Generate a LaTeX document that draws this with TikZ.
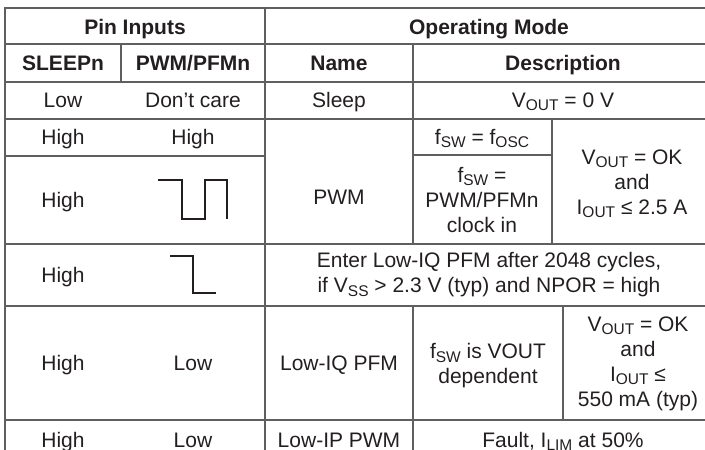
\documentclass[tikz,border=0pt]{standalone}
\usepackage{fontspec}
\setmainfont{Liberation Sans}
\usepackage{tikz}
\usetikzlibrary{positioning}
\definecolor{rulegray}{RGB}{95,95,95}
\definecolor{inkblack}{RGB}{35,31,32}
\newcommand{\lowsub}[1]{\raisebox{-0.3ex}{\fontsize{15.5}{15.5}\selectfont #1}}

\begin{document}
\begin{tikzpicture}[x=1pt, y=-1pt, every node/.style = {align = center, text = inkblack, inner sep = 0pt, font = \fontsize{21}{25}\selectfont}, line/.style = {anchor = base}, head/.style = {anchor = base, font = \fontsize{21}{25}\selectfont\bfseries}, grid line/.style = {line width = 1.5pt, rulegray, line cap = rect}, wave/.style = {line width = 1.6pt, inkblack}]
\useasboundingbox (0,0) rectangle (705,450);
\clip (0,0) rectangle (705,450);
% rules
\foreach \y in {8,44,82,119,244,306,420}
  { \draw[grid line] (5,\y) -- (713,\y); }
\draw[grid line] (5,156) -- (265,156);
\draw[grid line] (413,155) -- (552,155);
\foreach \x in {5,265}
  { \draw[grid line] (\x,8) -- (\x,460); }
\draw[grid line] (121,44) -- (121,82);
\draw[grid line] (413,44) -- (413,244);
\draw[grid line] (413,306) -- (413,460);
\draw[grid line] (552,119) -- (552,244);
\draw[grid line] (563,306) -- (563,420);
% header
\node[head](h;pin)  at (135,34) {Pin Inputs};
\node[head](h;mode) at (489,34) {Operating Mode};
  \node[head](h;sleep) at (63,70.5)  {SLEEPn};
  \node[head](h;pwm)   at (193,70.5) {PWM/PFMn};
  \node[head](h;name)  at (339,70.5) {Name};
  \node[head](h;desc)  at (563,70.5) {Description};
% sleep
\node[line](1;a) at (63,107.5)  {Low};
\node[line](1;b) at (193,107.5) {Don’t care};
\node[line](1;c) at (339,107.5) {Sleep};
\node[line](1;d) at (563,107.5) {V\lowsub{OUT} = 0 V};
% pwm
\node[line](2;a) at (63,144.5)  {High};
\node[line](2;b) at (193,144.5) {High};
\node[line](2;d) at (482,144.5) {f\lowsub{SW} = f\lowsub{OSC}};
\node[line](3;a) at (63,207.5)  {High};
\node[line](3;c) at (339,204) {PWM};
\node(3;d) at (482,200) {f\lowsub{SW} = \\ PWM/PFMn \\ clock in};
\node(3;e) at (632,184) {V\lowsub{OUT} = OK \\ and \\ I\lowsub{OUT} ≤ 2.5 A};
\draw[wave] (158,180) -- (182,180) -- (182,219) -- (205,219) -- (205,180) -- (227,180) -- (227,219);
% pfm entry
\node[line](4;a) at (63,282.5)  {High};
\node(4;c) at (489,275) {Enter Low-IQ PFM after 2048 cycles, \\ if V\lowsub{SS} > 2.3 V (typ) and NPOR = high};
\draw[wave] (170,256) -- (193,256) -- (193,293) -- (216,293);
% low-iq pfm
\node[line](5;a) at (63,370)  {High};
\node[line](5;b) at (193,370) {Low};
\node[line](5;c) at (339,370) {Low-IQ PFM};
\node(5;d) at (488,366) {f\lowsub{SW} is VOUT \\ dependent};
\node(5;e) at (638,364) {V\lowsub{OUT} = OK \\ and \\ I\lowsub{OUT} ≤ \\ 550 mA (typ)};
% low-ip pwm
\node[line](6;a) at (63,447)  {High};
\node[line](6;b) at (193,447) {Low};
\node[line](6;c) at (339,447) {Low-IP PWM};
\node[line](6;d) at (563,447) {Fault, I\lowsub{LIM} at 50\%};
\end{tikzpicture}
\end{document}
